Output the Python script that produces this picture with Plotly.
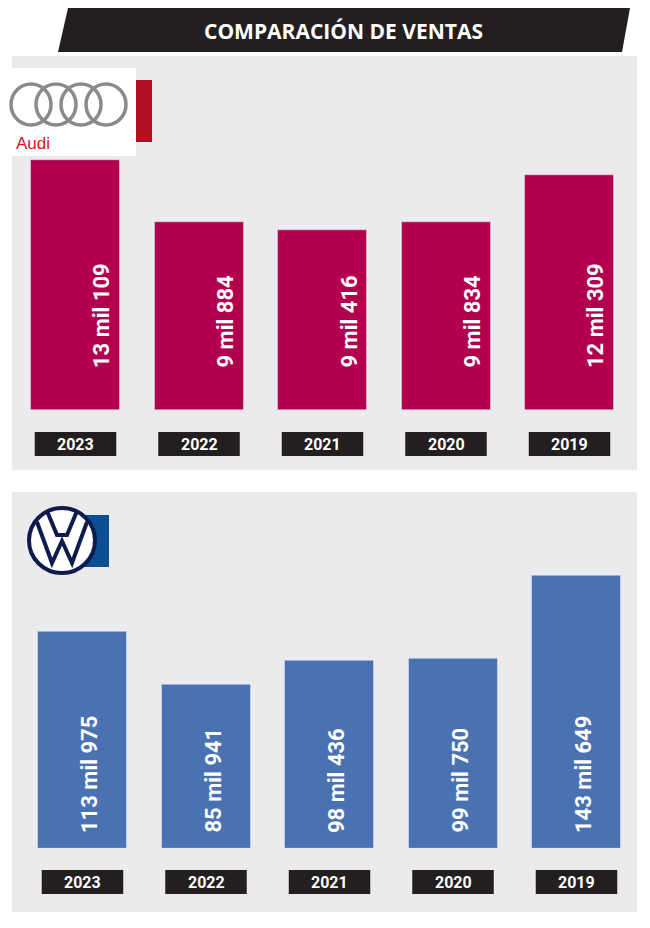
import plotly.graph_objects as go

years = ["2023", "2022", "2021", "2020", "2019"]
audi_sales = [13109, 9884, 9416, 9834, 12309]
audi_labels = ["13 mil 109", "9 mil 884", "9 mil 416", "9 mil 834", "12 mil 309"]
vw_sales = [113975, 85941, 98436, 99750, 143649]
vw_labels = ["113 mil 975", "85 mil 941", "98 mil 436", "99 mil 750", "143 mil 649"]

W, H = 634, 912
OFF = 8
def px(x): return (x - OFF) / W
def py(y): return 1 - (y - OFF) / H

fig = go.Figure()
fig.add_trace(go.Bar(x=years, y=audi_sales, marker_color="#b2004f", width=0.72,
                     xaxis="x", yaxis="y", hoverinfo="skip"))
fig.add_trace(go.Bar(x=years, y=vw_sales, marker_color="#4a72b2", width=0.72,
                     xaxis="x2", yaxis="y2", hoverinfo="skip"))

shapes = []
ann = []
shapes.append(dict(type="path", xref="paper", yref="paper", layer="below",
    path=f"M{px(68)},{py(8)} L{px(630)},{py(8)} L{px(622)},{py(52)} L{px(58)},{py(52)} Z",
    fillcolor="#231f20", line_width=0))
ann.append(dict(text="<b>COMPARACIÓN DE VENTAS</b>", x=px(343), y=py(31), xref="paper", yref="paper",
    xanchor="center", yanchor="middle",
    showarrow=False, font=dict(family="Open Sans", size=21, color="white")))
shapes.append(dict(type="rect", xref="paper", yref="paper", layer="below",
    x0=px(12), x1=px(637), y0=py(470), y1=py(56), fillcolor="#ebebed", line_width=0))
shapes.append(dict(type="rect", xref="paper", yref="paper", layer="below",
    x0=px(12), x1=px(637), y0=py(912), y1=py(492), fillcolor="#ebebed", line_width=0))
shapes.append(dict(type="rect", xref="paper", yref="paper", layer="below",
    x0=px(12), x1=px(136), y0=py(156), y1=py(68), fillcolor="white", line_width=0))
shapes.append(dict(type="rect", xref="paper", yref="paper",
    x0=px(136), x1=px(152), y0=py(142), y1=py(80), fillcolor="#b01020", line_width=0))
for cx in [31, 56, 81, 106]:
    shapes.append(dict(type="circle", xref="paper", yref="paper",
        x0=px(cx - 20), x1=px(cx + 20), y0=py(125), y1=py(84),
        line=dict(color="#8a8a8e", width=3.5)))
ann.append(dict(text="Audi", x=px(14), y=py(143), xref="paper", yref="paper",
    xanchor="left", yanchor="middle",
    showarrow=False, font=dict(family="Liberation Sans", size=17, color="#e0102f")))
shapes.append(dict(type="rect", xref="paper", yref="paper",
    x0=px(70), x1=px(109), y0=py(567), y1=py(515), fillcolor="#0a4f94", line_width=0))
shapes.append(dict(type="circle", xref="paper", yref="paper",
    x0=px(29), x1=px(95), y0=py(573), y1=py(508), fillcolor="white",
    line=dict(color="#0f1b4c", width=4)))
shapes.append(dict(type="path", xref="paper", yref="paper",
    path=f"M{px(37)},{py(522)} L{px(52)},{py(563)} L{px(62)},{py(541)} L{px(72)},{py(563)} L{px(87)},{py(522)}",
    line=dict(color="#0f1b4c", width=4)))
shapes.append(dict(type="path", xref="paper", yref="paper",
    path=f"M{px(47)},{py(511)} L{px(57)},{py(535)} L{px(67)},{py(535)} L{px(77)},{py(511)}",
    line=dict(color="#0f1b4c", width=4)))

def pills(xref, yc):
    for i, yr in enumerate(years):
        shapes.append(dict(type="rect", xref=xref, yref="paper", layer="below",
            x0=i - 0.33, x1=i + 0.33,
            y0=py(yc + 12), y1=py(yc - 12), fillcolor="#231f20", line_width=0))
        ann.append(dict(text=f"<b>{yr}</b>", x=i, y=py(yc), xref=xref, yref="paper",
            xanchor="center", yanchor="middle",
            showarrow=False, font=dict(family="Roboto", size=16, color="white")))
pills("x", 444)
pills("x2", 882)

for i, lab in enumerate(audi_labels):
    ann.append(dict(text=f"<b>{lab}</b>", x=i, y=0, xref="x", yref="y", textangle=-90,
        yanchor="bottom", yshift=40, xshift=26, showarrow=False,
        font=dict(family="Roboto", size=22, color="white")))
for i, lab in enumerate(vw_labels):
    ann.append(dict(text=f"<b>{lab}</b>", x=i, y=0, xref="x2", yref="y2", textangle=-90,
        yanchor="bottom", yshift=13, xshift=7, showarrow=False,
        font=dict(family="Roboto", size=22, color="white")))

fig.update_layout(
    width=W, height=H, margin=dict(l=0, r=0, t=0, b=0), showlegend=False,
    paper_bgcolor="white", plot_bgcolor="rgba(0,0,0,0)", bargap=0,
    xaxis=dict(type="category", domain=[px(13.75), px(631.25)], range=[-0.5, 4.5], showticklabels=False,
               showgrid=False, zeroline=False),
    yaxis=dict(domain=[py(410), py(143)], range=[0, 14000], showticklabels=False,
               showgrid=False, zeroline=False),
    xaxis2=dict(type="category", domain=[px(20.75), px(638.25)], range=[-0.5, 4.5], showticklabels=False,
                showgrid=False, zeroline=False, anchor="y2"),
    yaxis2=dict(domain=[py(848), py(553.5)], range=[0, 155000], showticklabels=False,
                showgrid=False, zeroline=False, anchor="x2"),
    shapes=shapes, annotations=ann,
)
fig.write_html("out.html")
